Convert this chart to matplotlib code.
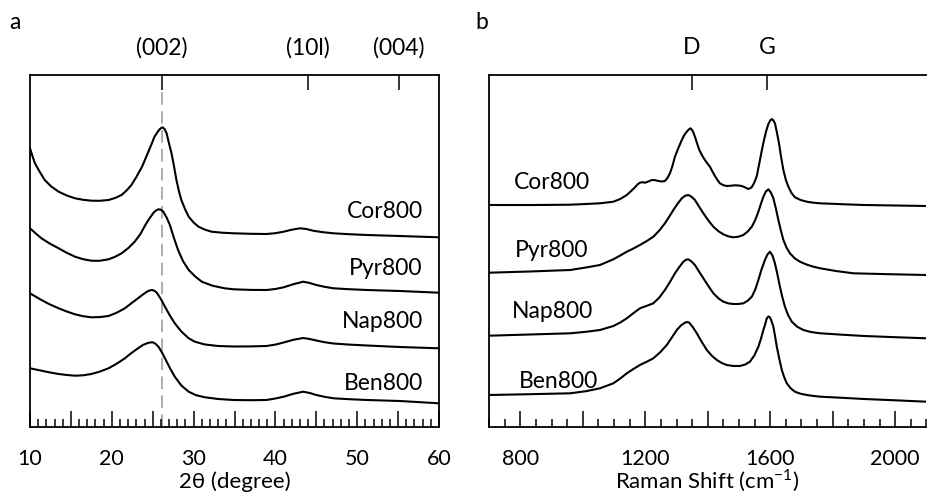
import matplotlib
matplotlib.use("Agg")
import matplotlib.pyplot as plt
from matplotlib.ticker import MultipleLocator, FuncFormatter

plt.rcParams["font.family"] = ["Lato", "DejaVu Sans"]
plt.rcParams["mathtext.fontset"] = "custom"
plt.rcParams["mathtext.rm"] = "Lato"

samples = ["Cor800", "Pyr800", "Nap800", "Ben800"]

# ---------------- XRD patterns (stacked, arbitrary units) ----------------
cor_xrd_2theta = [10.0, 10.3, 10.6, 11.2, 11.8, 12.6, 13.5, 14.5, 15.5, 16.5, 17.5, 18.5, 19.6,
                  20.4, 21.2, 21.8, 22.4, 23.0, 23.7, 24.3, 24.9, 25.2, 25.7, 25.95, 26.2, 26.45,
                  26.7, 26.95, 27.3, 27.6, 27.9, 28.2, 28.5, 29.0, 29.4, 30.0, 30.6, 31.4, 32.2,
                  33.5, 34.9, 37.0, 38.9, 40.0, 41.0, 42.0, 43.0, 43.8, 44.6, 45.8, 47.1, 49.0,
                  51.2, 55.2, 60.0]
cor_xrd_int = [278.7, 271.0, 263.7, 255.0, 247.0, 240.5, 235.3, 231.5, 228.7, 227.2, 226.3, 226.2, 227.0,
               229.0, 232.0, 236.5, 242.0, 250.0, 260.3, 272.0, 283.7, 290.0, 296.3, 298.5, 299.7, 298.0,
               293.7, 285.0, 273.7, 261.0, 247.0, 236.0, 227.0, 217.0, 210.3, 204.5, 200.3, 197.3, 195.3,
               194.3, 193.7, 193.2, 193.0, 193.8, 195.3, 197.3, 198.7, 198.0, 196.3, 194.8, 193.7, 192.8,
               192.0, 191.0, 189.7]

pyr_xrd_2theta = [10.0, 10.7, 11.4, 12.4, 13.5, 14.5, 15.5, 16.5, 17.5, 18.5, 19.6, 20.4, 21.2,
                  22.0, 22.8, 23.5, 24.1, 24.6, 25.1, 25.4, 25.7, 26.0, 26.3, 26.7, 27.1, 27.6,
                  28.1, 28.7, 29.4, 30.2, 31.0, 32.3, 33.8, 34.9, 37.0, 38.9, 40.0, 41.0, 42.2,
                  43.4, 44.2, 45.0, 46.0, 47.1, 49.0, 51.2, 55.2, 60.0]
pyr_xrd_int = [198.7, 193.5, 188.7, 183.5, 178.7, 174.2, 170.3, 167.8, 166.3, 166.2, 167.7, 170.2, 173.7,
               178.8, 185.3, 193.0, 202.0, 208.5, 214.3, 216.5, 217.7, 217.3, 215.3, 209.5, 202.0, 189.0,
               177.0, 166.0, 157.0, 150.5, 145.3, 141.3, 138.7, 137.7, 137.1, 137.0, 138.0, 139.7, 142.8,
               145.3, 144.0, 142.0, 140.2, 138.7, 137.8, 137.0, 136.0, 134.3]

nap_xrd_2theta = [10.0, 10.7, 11.4, 12.4, 13.5, 14.5, 15.5, 16.5, 17.5, 18.5, 19.6, 20.6, 21.6,
                  22.4, 23.2, 23.8, 24.3, 24.6, 24.9, 25.2, 25.5, 26.0, 26.5, 27.1, 27.7, 28.5,
                  29.4, 30.1, 30.8, 31.4, 33.0, 34.9, 37.0, 38.9, 40.0, 41.0, 42.2, 43.4, 44.2,
                  45.0, 46.0, 47.1, 49.0, 51.2, 55.2, 60.0]
nap_xrd_int = [133.7, 130.3, 127.0, 122.7, 118.7, 115.5, 112.7, 110.8, 109.7, 109.9, 111.0, 114.3, 118.7,
               123.8, 128.7, 132.5, 135.3, 136.5, 137.0, 136.3, 134.3, 128.0, 120.3, 111.5, 103.7, 95.5,
               88.7, 85.5, 83.8, 82.5, 81.0, 80.5, 80.6, 81.0, 82.4, 84.5, 87.2, 89.0, 88.0,
               86.5, 84.8, 83.5, 82.4, 81.5, 80.0, 78.7]

ben_xrd_2theta = [10.0, 10.7, 11.4, 12.4, 13.5, 14.5, 15.5, 16.5, 17.5, 18.5, 19.6, 20.6, 21.6,
                  22.4, 23.2, 23.8, 24.3, 24.65, 25.0, 25.35, 25.7, 26.1, 26.5, 27.1, 27.7, 28.5,
                  29.4, 30.3, 31.4, 33.0, 34.9, 37.0, 38.9, 40.0, 41.0, 42.2, 43.4, 44.2, 45.0,
                  46.0, 47.1, 49.0, 51.2, 55.2, 60.0]
ben_xrd_int = [58.7, 57.5, 56.3, 54.6, 53.0, 52.0, 51.3, 51.7, 53.0, 55.3, 58.7, 63.3, 68.7,
               74.0, 78.7, 82.0, 83.7, 84.5, 84.7, 83.2, 80.3, 75.0, 68.7, 59.0, 50.3, 41.5,
               35.3, 31.8, 29.7, 28.0, 27.0, 26.8, 27.0, 28.5, 30.3, 33.2, 35.3, 34.0, 32.0,
               30.2, 28.7, 27.8, 27.0, 26.0, 23.7]

# ---------------- Raman spectra (stacked, arbitrary units) ----------------
cor_raman_shift = [700, 850, 960, 1010, 1055, 1098, 1120, 1141, 1155, 1167, 1175, 1183, 1191, 1199,
                   1210, 1221, 1232, 1242, 1253, 1263, 1271, 1279, 1287, 1295, 1306, 1317, 1325,
                   1333, 1339, 1345, 1352, 1359, 1366, 1373, 1382, 1391, 1399, 1407, 1415, 1423,
                   1431, 1439, 1450, 1461, 1475, 1487, 1498, 1509, 1520, 1530, 1540, 1548, 1557,
                   1565, 1572, 1580, 1587, 1594, 1600, 1605, 1610, 1615, 1621, 1628, 1635, 1642,
                   1650, 1658, 1668, 1679, 1697, 1717, 1738, 1759, 1830, 1900, 2000, 2100]
cor_raman_int = [222.0, 222.0, 222.3, 223.0, 223.7, 225.3, 228.0, 232.0, 236.0, 239.7, 242.5, 244.3, 244.8, 244.3,
                 245.5, 247.0, 246.8, 246.0, 245.5, 246.0, 249.0, 253.7, 261.0, 270.3, 279.0, 287.0, 292.0,
                 295.3, 297.5, 298.7, 296.0, 290.3, 283.5, 277.0, 271.5, 267.0, 263.5, 260.3, 255.5, 251.0,
                 247.0, 243.7, 241.8, 241.0, 241.3, 241.7, 241.5, 241.0, 239.5, 238.0, 239.5, 243.7, 251.0,
                 263.7, 275.0, 287.0, 296.0, 303.0, 306.5, 308.0, 306.5, 303.7, 295.0, 283.7, 269.5, 257.0,
                 247.0, 240.3, 234.0, 229.7, 227.0, 225.3, 224.3, 223.7, 222.8, 222.0, 221.5, 221.0]

pyr_raman_shift = [700, 830, 960, 1010, 1055, 1098, 1120, 1141, 1162, 1183, 1205, 1226, 1245, 1263,
                   1277, 1290, 1304, 1317, 1328, 1338, 1348, 1359, 1372, 1386, 1402, 1418, 1434,
                   1450, 1466, 1482, 1498, 1514, 1528, 1541, 1552, 1562, 1570, 1578, 1586, 1594,
                   1602, 1610, 1618, 1626, 1634, 1642, 1652, 1663, 1678, 1695, 1716, 1738, 1760,
                   1810, 1866, 1980, 2100]
pyr_raman_int = [154.3, 155.5, 157.0, 159.5, 162.0, 167.7, 171.5, 175.3, 178.5, 182.0, 186.0, 190.3, 196.5, 203.7,
                 210.5, 217.0, 223.5, 228.7, 231.3, 232.0, 230.3, 227.0, 220.5, 213.7, 206.5, 200.3, 195.8,
                 192.7, 190.6, 189.7, 190.3, 192.0, 195.5, 200.3, 207.0, 215.3, 223.0, 230.3, 235.5, 237.7,
                 234.5, 228.7, 218.5, 207.0, 196.5, 187.0, 179.5, 173.7, 168.8, 165.3, 162.5, 160.3, 158.7,
                 156.0, 153.7, 152.8, 152.0]

nap_raman_shift = [700, 830, 960, 1010, 1055, 1098, 1120, 1141, 1162, 1183, 1205, 1226, 1245, 1263,
                   1280, 1295, 1309, 1322, 1330, 1338, 1348, 1359, 1372, 1386, 1402, 1418, 1434,
                   1450, 1466, 1482, 1498, 1514, 1528, 1541, 1552, 1562, 1572, 1583, 1591, 1599,
                   1607, 1615, 1623, 1631, 1639, 1647, 1657, 1669, 1686, 1706, 1730, 1760, 1830,
                   1900, 2000, 2100]
nap_raman_int = [91.3, 92.5, 93.7, 95.2, 97.0, 101.0, 104.5, 108.7, 113.8, 118.7, 121.2, 123.7, 129.5, 137.0,
                 145.5, 153.7, 160.0, 165.3, 167.2, 167.7, 165.5, 162.0, 155.5, 148.7, 141.0, 133.7, 128.7,
                 125.3, 123.6, 123.0, 123.0, 123.7, 126.3, 130.3, 137.5, 147.0, 157.5, 167.0, 172.5, 175.3,
                 171.5, 163.7, 152.5, 140.3, 129.5, 120.3, 112.0, 105.3, 100.3, 97.0, 95.0, 93.7, 92.3,
                 91.0, 89.8, 88.7]

ben_raman_shift = [700, 830, 960, 1010, 1055, 1098, 1120, 1141, 1162, 1183, 1205, 1226, 1248, 1269,
                   1285, 1301, 1314, 1327, 1334, 1341, 1353, 1365, 1381, 1397, 1413, 1429, 1445,
                   1461, 1482, 1503, 1520, 1535, 1549, 1562, 1570, 1578, 1584, 1589, 1594, 1599,
                   1604, 1610, 1615, 1621, 1629, 1637, 1645, 1653, 1665, 1679, 1697, 1717, 1740,
                   1760, 1830, 1900, 2000, 2100]
ben_raman_int = [32.0, 32.8, 33.7, 35.8, 38.7, 43.7, 48.5, 53.7, 58.0, 62.0, 65.3, 68.7, 74.8, 82.0,
                 89.5, 97.0, 101.5, 104.3, 105.0, 104.3, 99.5, 93.7, 85.0, 77.0, 71.3, 67.0, 64.0,
                 62.0, 61.0, 61.0, 62.5, 65.3, 71.5, 80.3, 88.0, 97.0, 103.0, 108.7, 110.5, 109.7,
                 106.0, 100.3, 91.5, 80.3, 68.0, 57.0, 49.5, 43.7, 38.8, 35.3, 33.3, 32.0, 31.0,
                 30.3, 29.2, 28.0, 26.7, 25.3]

xrd_x = [cor_xrd_2theta, pyr_xrd_2theta, nap_xrd_2theta, ben_xrd_2theta]
xrd_y = [cor_xrd_int, pyr_xrd_int, nap_xrd_int, ben_xrd_int]
raman_x = [cor_raman_shift, pyr_raman_shift, nap_raman_shift, ben_raman_shift]
raman_y = [cor_raman_int, pyr_raman_int, nap_raman_int, ben_raman_int]

xrd_peaks = [26.1, 44.0, 55.1]
xrd_peak_labels = ["(002)", "(10l)", "(004)"]
raman_bands = [1350, 1590]
raman_band_labels = ["D", "G"]

W, H = 927, 495
fig = plt.figure(figsize=(W / 100, H / 100), dpi=100)


def px_axes(left, right, top, bottom):
    return fig.add_axes([left / W, 1 - bottom / H, (right - left) / W, (bottom - top) / H])


ax1 = px_axes(30, 439, 75, 427)
ax2 = px_axes(489, 926.5, 75, 427)

TICK_FS = 15.5
LABEL_FS = 16.5
LW = 1.5


def style_axis(ax, xmin, xmax, major, minor, labelled):
    ax.set_xlim(xmin, xmax)
    ax.set_ylim(0, 352)
    ax.set_yticks([])
    ax.xaxis.set_major_locator(MultipleLocator(major))
    ax.xaxis.set_minor_locator(MultipleLocator(minor))
    ax.tick_params(axis="x", which="major", direction="in", length=11.5, width=1.1,
                   labelsize=TICK_FS, pad=16, color="black")
    ax.tick_params(axis="x", which="minor", direction="in", length=5.5, width=1.1)
    ax.xaxis.set_major_formatter(
        FuncFormatter(lambda v, p: f"{v:g}" if round(v) in labelled else ""))
    for s in ax.spines.values():
        s.set_linewidth(1.3)


# --- panel a: XRD ---
style_axis(ax1, 10, 60, 5, 1, {10, 20, 30, 40, 50, 60})
ax1.axvline(xrd_peaks[0], ymin=0, ymax=(352 - 15) / 352, color="#a6a6a6",
            lw=1.3, dashes=(7, 3.5), zorder=1)
for x, y in zip(xrd_x, xrd_y):
    ax1.plot(x, y, color="black", lw=LW, zorder=2, solid_joinstyle="round")
xrd_label_pos = [209.3, 152.0, 98.7, 37.0]
for s, ypos in zip(samples, xrd_label_pos):
    ax1.text(58.0, ypos, s, ha="right", va="baseline", fontsize=LABEL_FS)
top1 = ax1.secondary_xaxis("top")
top1.set_xticks(xrd_peaks, xrd_peak_labels)
top1.tick_params(direction="in", length=11, width=1.1, labelsize=LABEL_FS, pad=12)
top1.spines["top"].set_visible(False)

# --- panel b: Raman ---
style_axis(ax2, 700, 2100, 200, 50, {800, 1200, 1600, 2000})
ax2.spines["right"].set_visible(False)
for x, y in zip(raman_x, raman_y):
    ax2.plot(x, y, color="black", lw=LW, zorder=2, solid_joinstyle="round")
raman_label_pos = [(900, 238.0), (900, 170.3), (902, 108.7), (923, 38.7)]
for s, (xpos, ypos) in zip(samples, raman_label_pos):
    ax2.text(xpos, ypos, s, ha="center", va="baseline", fontsize=LABEL_FS)
top2 = ax2.secondary_xaxis("top")
top2.set_xticks(raman_bands, raman_band_labels)
top2.tick_params(direction="in", length=11, width=1.1, labelsize=LABEL_FS, pad=12)
top2.spines["top"].set_visible(False)

# axis titles share one baseline below the tick labels
fig.text(ax1.get_position().x0 + ax1.get_position().width / 2, 1 - 488.5 / H,
         "2θ (degree)", ha="center", va="baseline", fontsize=16)
fig.text(707.5 / W, 1 - 488.5 / H, r"Raman Shift (cm$^{\mathregular{-1}}$)",
         ha="center", va="baseline", fontsize=16)

fig.text(15 / W, 1 - 29.3 / H, "a", ha="center", va="baseline", fontsize=LABEL_FS)
fig.text(482 / W, 1 - 29.3 / H, "b", ha="center", va="baseline", fontsize=LABEL_FS)

fig.savefig("out.png", dpi=100)
